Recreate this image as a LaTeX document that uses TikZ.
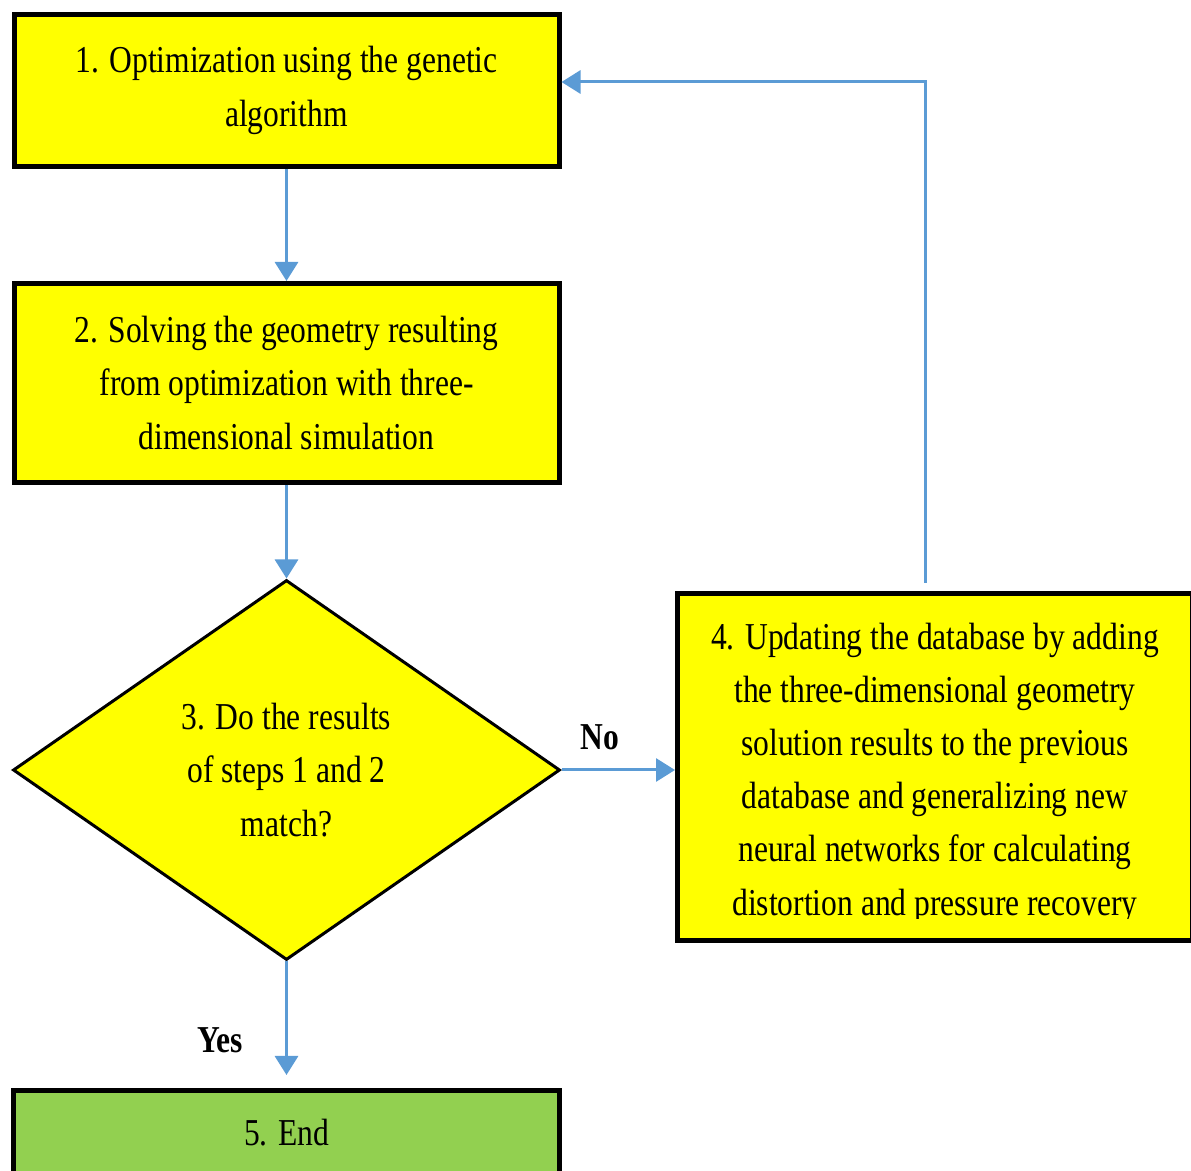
\documentclass[tikz,border=0pt]{standalone}
\usepackage{fontspec}
\setmainfont{Liberation Serif}[FakeStretch=0.83]
\usetikzlibrary{shapes.geometric,arrows.meta}
\definecolor{boxyellow}{HTML}{FFFF00}
\definecolor{endgreen}{HTML}{92D050}
\definecolor{flowblue}{HTML}{5B9BD5}
\begin{document}
\begin{tikzpicture}[x=0.5pt,y=-0.5pt,
  txt/.style={font=\fontsize{19}{26.6}\selectfont},
  procbox/.style={draw=black,line width=2.5pt,fill=boxyellow,minimum width=272.5pt,align=center,inner sep=0pt,txt},
  decision/.style={diamond,draw=black,line width=1.5pt,fill=boxyellow,minimum width=273.5pt,minimum height=190pt,inner sep=0pt,align=center,txt},
  lbl/.style={font=\fontsize{19}{22}\selectfont\bfseries,inner sep=0pt},
  flow/.style={draw=flowblue,line width=1.5pt,-{Triangle[length=9.5pt,width=11.5pt]}}]
\useasboundingbox (0,0) rectangle (1191,1171);
\node[procbox,minimum height=76pt] (n1) at (286.5,90.5) {1. Optimization using the genetic\\algorithm};
\node[procbox,minimum height=99.5pt] (n2) at (286.5,383) {2. Solving the geometry resulting\\from optimization with three-\\dimensional simulation};
\node[decision] (n3) at (286.5,770) {3. Do the results\\of steps 1 and 2\\match?};
\node[procbox,minimum width=257.5pt,minimum height=173.5pt] (n4) at (935,767) {};
\begin{scope}
  \clip (680,596) rectangle (1191,919);
  \node[align=center,inner sep=0pt,txt] (t4) at (935,773) {4. Updating the database by adding\\the three-dimensional geometry\\solution results to the previous\\database and generalizing new\\neural networks for calculating\\distortion and pressure recovery};
\end{scope}
\node[procbox,fill=endgreen,minimum width=273pt,minimum height=42.5pt] (n5) at (286.5,1133) {5. End};
\node[lbl] (no) at (600,737) {No};
\node[lbl] (yes) at (220,1040) {Yes};
\draw[flow] (n1.south) -- (n2.north);
\draw[flow] (n2.south) -- (n3.north);
\draw[flow] (n3.east) -- (n3.east -| n4.west);
\draw[flow,shorten >=6.5pt] (n3.south) -- (n5.north);
\draw[flow] ([xshift=-5pt,yshift=4pt]n4.north) |- ([yshift=4.25pt]n1.east);
\end{tikzpicture}
\end{document}
